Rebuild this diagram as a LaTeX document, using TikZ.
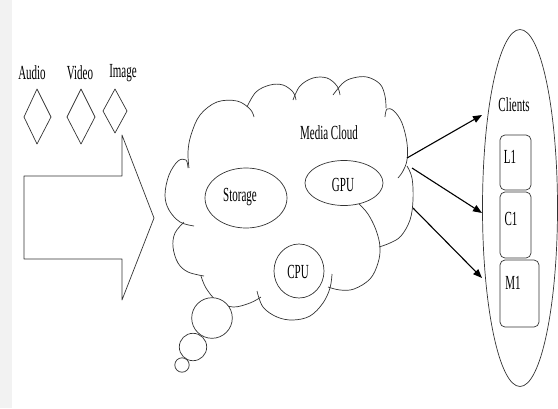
\documentclass[tikz,border=0pt]{standalone}
\usepackage{fontspec}
\setmainfont{Liberation Serif}
\usepackage{graphicx}
\usetikzlibrary{shapes.geometric,arrows.meta}
\newcommand\sqz[1]{\scalebox{0.55}[1]{#1}}
\begin{document}
\begin{tikzpicture}[x=1pt,y=-1pt,line join=round,
  ln/.style={draw=black!80,line width=0.7pt},
  lbl/.style={font=\fontsize{20}{22}\selectfont,inner sep=0pt,text=black},
  box/.style={ln,rounded corners=5pt,inner sep=0pt},
  bub/.style={circle,ln,fill=white,inner sep=0pt},
  ell/.style={ellipse,ln,inner sep=0pt},
  conn/.style={line width=1.1pt,black,-{Triangle[length=9pt,width=7pt]}},
  puff/.style={ln,smooth,tension=0.6}]
\useasboundingbox (0,0) rectangle (558,408);
\fill[black!5] (0,0) rectangle (12,408);

% input labels and diamonds
\node[lbl] (audio) at (32,73) {\sqz{Audio}};
\node[lbl] (video) at (80,73) {\sqz{Video}};
\node[lbl] (image) at (123,73) {\sqz{Image}};
\draw[ln] (24,117) -- (37,89) -- (51,117) -- (37,144) -- cycle;
\draw[ln] (67,117) -- (81,89) -- (95,117) -- (81,144) -- cycle;
\draw[ln] (103,111) -- (115,89) -- (127,111) -- (115,133) -- cycle;

% big arrow
\draw[ln] (24,176) -- (122,176) -- (122,135) -- (154,218) -- (122,300) -- (122,259) -- (24,259) -- cycle;

% cloud
\draw[puff] plot coordinates {(188,168) (186,160) (178,161) (169,175) (165,195) (169,210) (180,222) (194,226)};
\draw[puff] plot coordinates {(189,168) (188,152) (191,135) (200,115) (217,102) (237,101) (250,109) (254,117)};
\draw[puff] plot coordinates {(247,107) (256,92) (270,85) (283,85) (293,92) (296,100)};
\draw[puff] plot coordinates {(293,100) (300,86) (313,78) (327,78) (337,86) (340,95)};
\draw[puff] plot coordinates {(333,95) (343,83) (353,78) (367,77) (380,84) (385,96) (386,108)};
\draw[puff] plot coordinates {(385,117) (387,109) (394,111) (402,123) (407,143) (407,160) (403,171) (398,178)};
\draw[puff] plot coordinates {(407,166) (412,178) (413,200) (410,220) (401,236) (390,243) (379,247)};
\draw[puff] plot coordinates {(359,204) (368,214) (376,230) (380,247) (378,263) (370,279) (354,289) (340,290) (328,287)};
\draw[puff] plot coordinates {(332,274) (330,288) (323,303) (310,316) (293,320) (277,317) (263,307) (257,291)};
\draw[puff] plot coordinates {(261,297) (250,303) (233,307) (217,301) (206,288) (201,276)};
\draw[puff] plot coordinates {(204,276) (188,272) (178,263) (173,247) (175,233) (184,222)};

% thought bubbles
\node[bub,minimum size=14.4pt] (b3) at (182,365) {};
\node[bub,minimum size=27.4pt] (b2) at (193,347) {};
\node[bub,minimum size=40.6pt] (b1) at (212,318) {};

% cloud contents
\node[lbl] (mc) at (329,133) {\sqz{Media Cloud}};
\node[ell,minimum width=82pt,minimum height=60pt] (storage) at (246,198) {};
\node[lbl] (storaget) at (240,197) {\sqz{Storage}};
\node[ell,minimum width=78pt,minimum height=45pt] (gpu) at (344,183) {};
\node[lbl] (gput) at (343,185) {\sqz{GPU}};
\node[ell,minimum width=50pt,minimum height=54pt] (cpu) at (299,271) {};
\node[lbl] (cput) at (298,272) {\sqz{CPU}};

% clients
\node[ell,minimum width=75pt,minimum height=357pt] (clients) at (520,208) {};
\node[lbl] (clientst) at (514,105) {\sqz{Clients}};
\node[box,minimum width=31pt,minimum height=55pt] (l1) at (515.5,162.5) {};
\node[box,minimum width=31pt,minimum height=66pt] (c1) at (515.5,225) {};
\node[box,minimum width=39pt,minimum height=67pt] (m1) at (519.5,293.5) {};
\node[lbl] (l1t) at (510,157) {\sqz{L1}};
\node[lbl] (c1t) at (511,219) {\sqz{C1}};
\node[lbl] (m1t) at (513,283) {\sqz{M1}};

% connectors
\coordinate (s1) at (407,158);
\coordinate (s2) at (412,168);
\coordinate (s3) at (413,208);
\coordinate (t1) at (482,115);
\coordinate (t2) at (482,213);
\coordinate (t3) at (482,278);
\draw[conn] (s1) -- (t1);
\draw[conn] (s2) -- (t2);
\draw[conn] (s3) -- (t3);
\end{tikzpicture}
\end{document}
